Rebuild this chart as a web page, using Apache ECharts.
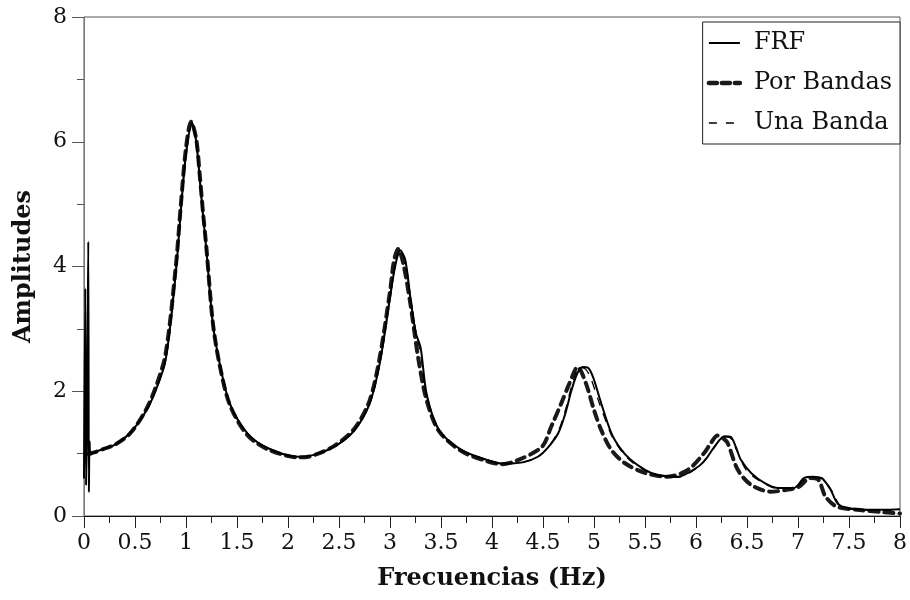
<!DOCTYPE html>
<html>
<head>
<meta charset="utf-8">
<script src="https://cdn.jsdelivr.net/npm/echarts@6/dist/echarts.min.js"></script>
<style>
  html, body { margin: 0; padding: 0; background: #fff; }
  #chart { width: 910px; height: 600px; }
</style>
</head>
<body>
<div id="chart"></div>
<script>
// FRF (linea continua)
const frfFreq = [0, 0.013, 0.02, 0.03, 0.042, 0.048, 0.055, 0.065, 0.1, 0.2, 0.3, 0.45, 0.6, 0.7, 0.8, 0.9, 0.95, 1.0, 1.06, 1.1, 1.133, 1.165, 1.2, 1.263, 1.33, 1.43, 1.6, 1.8, 2.1, 2.2, 2.45, 2.65, 2.8, 2.9, 3.0, 3.05, 3.1, 3.15, 3.2, 3.25, 3.3, 3.36, 3.48, 3.7, 3.95, 4.1, 4.3, 4.45, 4.55, 4.65, 4.72, 4.78, 4.84, 4.89, 4.94, 4.99, 5.07, 5.17, 5.26, 5.36, 5.5, 5.62, 5.82, 6.02, 6.1, 6.18, 6.28, 6.34, 6.39, 6.44, 6.54, 6.67, 6.8, 6.96, 7.06, 7.15, 7.2, 7.24, 7.32, 7.4, 7.58, 7.84, 8.0];
const frfAmp = [0.6, 3.65, 0.5, 1.4, 4.4, 0.38, 1.2, 0.98, 1.02, 1.08, 1.14, 1.33, 1.66, 2.0, 2.5, 3.9, 4.9, 5.8, 6.3, 6.0, 5.44, 4.85, 4.26, 3.09, 2.45, 1.8, 1.33, 1.09, 0.95, 0.96, 1.11, 1.37, 1.8, 2.45, 3.5, 4.0, 4.26, 4.1, 3.5, 2.95, 2.7, 1.95, 1.38, 1.06, 0.9, 0.84, 0.86, 0.95, 1.1, 1.33, 1.65, 2.02, 2.3, 2.39, 2.38, 2.23, 1.81, 1.33, 1.08, 0.9, 0.74, 0.66, 0.63, 0.79, 0.92, 1.11, 1.28, 1.27, 1.11, 0.9, 0.69, 0.53, 0.45, 0.45, 0.61, 0.63, 0.62, 0.6, 0.42, 0.18, 0.11, 0.1, 0.11];

// Por Bandas (discontinua gruesa)
const bandasFreq = [0.04, 0.1, 0.2, 0.3, 0.45, 0.6, 0.7, 0.8, 0.9, 0.95, 1.0, 1.05, 1.1, 1.133, 1.165, 1.2, 1.263, 1.33, 1.43, 1.6, 1.8, 2.1, 2.2, 2.45, 2.65, 2.8, 2.9, 3.0, 3.04, 3.08, 3.13, 3.2, 3.28, 3.36, 3.48, 3.7, 3.95, 4.1, 4.26, 4.49, 4.58, 4.68, 4.76, 4.84, 4.92, 5.0, 5.07, 5.17, 5.3, 5.5, 5.72, 5.92, 6.08, 6.15, 6.21, 6.27, 6.31, 6.41, 6.54, 6.73, 6.89, 7.01, 7.12, 7.2, 7.27, 7.38, 7.58, 7.84, 8.0];
const bandasAmp = [1.0, 1.02, 1.08, 1.14, 1.32, 1.68, 2.05, 2.6, 4.0, 5.0, 5.9, 6.32, 6.05, 5.5, 4.9, 4.3, 3.1, 2.42, 1.78, 1.3, 1.07, 0.94, 0.95, 1.12, 1.4, 1.85, 2.55, 3.6, 4.1, 4.28, 4.05, 3.4, 2.5, 1.85, 1.36, 1.04, 0.88, 0.83, 0.9, 1.11, 1.43, 1.81, 2.13, 2.39, 2.13, 1.7, 1.38, 1.06, 0.85, 0.69, 0.63, 0.74, 1.01, 1.18, 1.29, 1.24, 1.17, 0.74, 0.5, 0.39, 0.42, 0.47, 0.61, 0.58, 0.31, 0.15, 0.1, 0.06, 0.04];

// Una Banda (discontinua fina)
const unaFreq = [0.04, 0.1, 0.2, 0.3, 0.45, 0.6, 0.7, 0.8, 0.9, 0.95, 1.0, 1.06, 1.1, 1.133, 1.165, 1.2, 1.263, 1.33, 1.43, 1.6, 1.8, 2.1, 2.2, 2.45, 2.65, 2.8, 2.9, 3.0, 3.05, 3.1, 3.15, 3.2, 3.25, 3.3, 3.36, 3.48, 3.7, 3.95, 4.1, 4.3, 4.45, 4.55, 4.65, 4.72, 4.78, 4.83, 4.87, 4.92, 4.97, 5.05, 5.17, 5.26, 5.36, 5.5, 5.62, 5.82, 6.02, 6.1, 6.18, 6.27, 6.33, 6.4, 6.5, 6.67, 6.8, 6.96, 7.06, 7.14, 7.2, 7.26, 7.34, 7.42, 7.58, 7.84, 8.0];
const unaAmp = [1.0, 1.02, 1.08, 1.14, 1.33, 1.66, 2.0, 2.5, 3.9, 4.9, 5.8, 6.3, 6.0, 5.44, 4.85, 4.26, 3.09, 2.45, 1.8, 1.33, 1.09, 0.95, 0.96, 1.11, 1.37, 1.8, 2.45, 3.5, 4.0, 4.26, 4.1, 3.5, 3.0, 2.6, 1.92, 1.38, 1.06, 0.9, 0.84, 0.86, 0.95, 1.1, 1.36, 1.7, 2.08, 2.32, 2.38, 2.35, 2.2, 1.82, 1.3, 1.06, 0.88, 0.73, 0.65, 0.62, 0.78, 0.92, 1.1, 1.27, 1.26, 1.05, 0.72, 0.52, 0.44, 0.44, 0.58, 0.62, 0.61, 0.57, 0.38, 0.16, 0.1, 0.09, 0.1];

const xTicks = [0, 0.5, 1, 1.5, 2, 2.5, 3, 3.5, 4, 4.5, 5, 5.5, 6, 6.5, 7, 7.5, 8];
const yTicks = [0, 2, 4, 6, 8];

const pairs = (fs, as) => fs.map((f, i) => [f, as[i]]);
const FONT = '"DejaVu Serif", "Liberation Serif", serif';

const chart = echarts.init(document.getElementById('chart'));
const option = {
    animation: false,
    backgroundColor: '#fff',
    textStyle: { fontFamily: FONT },
    grid: {
        left: 84,
        right: 7,
        top: 17,
        bottom: 84,
        show: true,
        borderColor: '#555',
        borderWidth: 1
    },
    legend: {
        right: 10,
        top: 22,
        orient: 'vertical',
        itemWidth: 31,
        itemHeight: 14,
        itemGap: 16,
        padding: [9, 8, 9, 4],
        borderColor: '#222',
        borderWidth: 1,
        backgroundColor: '#fff',
        itemStyle: { opacity: 0 },
        textStyle: { fontFamily: FONT, fontSize: 24, color: '#111', padding: [0, 0, 0, 9] },
        data: [
            { name: 'FRF', lineStyle: { width: 2, type: 'solid', color: '#000' } },
            { name: 'Por Bandas', lineStyle: { width: 4.5, type: [8, 5], color: '#1a1a1a' } },
            { name: 'Una Banda', lineStyle: { width: 1.6, type: [8, 9], color: '#000' } }
        ]
    },
    xAxis: {
        type: 'value',
        min: 0,
        max: 8,
        interval: 0.5,
        name: 'Frecuencias (Hz)',
        nameLocation: 'middle',
        nameGap: 51,
        nameTextStyle: { fontFamily: FONT, fontSize: 24, fontWeight: 'bold', color: '#111' },
        axisLine: { onZero: false, lineStyle: { color: '#111', width: 1.2 } },
        axisTick: { show: true, inside: false, length: 12, lineStyle: { color: '#222' } },
        minorTick: { show: true, splitNumber: 2, length: 7, lineStyle: { color: '#222' } },
        axisLabel: {
            fontFamily: FONT, fontSize: 22, color: '#111', margin: 16,
            formatter: v => (xTicks.indexOf(v) >= 0 ? String(v) : '')
        },
        splitLine: { show: false }
    },
    yAxis: {
        type: 'value',
        min: 0,
        max: 8,
        interval: 2,
        name: 'Amplitudes',
        nameLocation: 'middle',
        nameGap: 48,
        nameTextStyle: { fontFamily: FONT, fontSize: 24, fontWeight: 'bold', color: '#111' },
        axisLine: { onZero: false, lineStyle: { color: '#777', width: 1 } },
        axisTick: { show: true, inside: false, length: 12, lineStyle: { color: '#555' } },
        minorTick: { show: true, splitNumber: 2, length: 7, lineStyle: { color: '#555' } },
        axisLabel: {
            fontFamily: FONT, fontSize: 22, color: '#111', margin: 17,
            formatter: v => (yTicks.indexOf(v) >= 0 ? String(v) : '')
        },
        splitLine: { show: false }
    },
    series: [
        {
            name: 'FRF',
            type: 'line',
            data: pairs(frfFreq, frfAmp),
            symbol: 'none',
            smooth: 0.3,
            lineStyle: { color: '#000', width: 2 },
            itemStyle: { color: '#000' },
            z: 3
        },
        {
            name: 'Por Bandas',
            type: 'line',
            data: pairs(bandasFreq, bandasAmp),
            symbol: 'none',
            smooth: 0.3,
            lineStyle: { color: '#1a1a1a', width: 4, type: [9, 6], cap: 'round' },
            itemStyle: { color: '#1a1a1a' },
            z: 2
        },
        {
            name: 'Una Banda',
            type: 'line',
            data: pairs(unaFreq, unaAmp),
            symbol: 'none',
            smooth: 0.3,
            lineStyle: { color: '#000', width: 1.3, type: [9, 8] },
            itemStyle: { color: '#000' },
            z: 4
        }
    ]
};
chart.setOption(option);
</script>
</body>
</html>
